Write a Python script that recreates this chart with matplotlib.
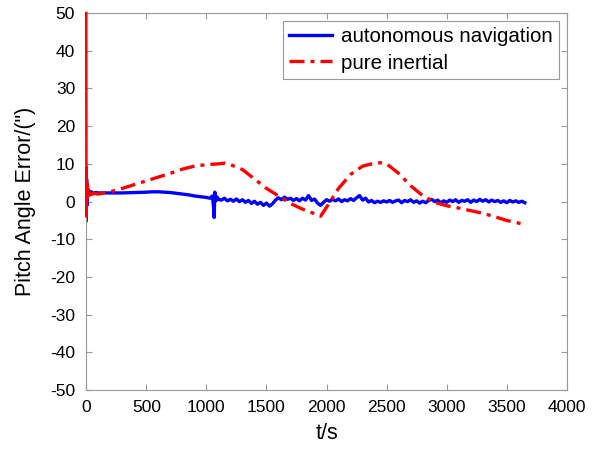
import matplotlib
matplotlib.use("Agg")
import matplotlib.pyplot as plt

plt.rcParams['font.family'] = ['Liberation Sans', 'DejaVu Sans']
plt.rcParams['axes.unicode_minus'] = False

# autonomous navigation pitch error (arcsec) vs time (s)
t_auto = [0, 3, 6, 10, 15, 20, 30, 40, 60, 80, 100, 150, 200, 300, 400, 500,
          550, 600, 650, 700, 750, 800, 850, 900, 950, 1000, 1030, 1050, 1060,
          1065, 1070, 1075, 1080, 1090, 1100, 1125,
          1150, 1175, 1200, 1225, 1250, 1275, 1300, 1325, 1350, 1375, 1400,
          1425, 1450, 1475, 1500, 1525, 1550, 1575, 1600, 1625, 1650, 1675,
          1700, 1725, 1750, 1775, 1800, 1825, 1850, 1875, 1900, 1925, 1950,
          1975, 2000, 2025, 2050, 2075, 2100, 2125, 2150, 2175, 2200, 2225,
          2250, 2275, 2300, 2325, 2350, 2375, 2400, 2425, 2450, 2475, 2500,
          2525, 2550, 2575, 2600, 2625, 2650, 2675, 2700, 2725, 2750, 2775,
          2800, 2825, 2850, 2875, 2900, 2925, 2950, 2975, 3000, 3025, 3050,
          3075, 3100, 3125, 3150, 3175, 3200, 3225, 3250, 3275, 3300, 3325,
          3350, 3375, 3400, 3425, 3450, 3475, 3500, 3525, 3550, 3575, 3600,
          3625, 3650]
e_auto = [-5.0, 6.0, -1.0, 4.0, 1.5, 3.0, 2.0, 2.6, 2.2, 2.4, 2.3, 2.3, 2.3, 2.3,
          2.4, 2.5, 2.6, 2.6, 2.5, 2.4, 2.2, 2.0, 1.8, 1.5, 1.3, 1.1, 0.9, 1.5,
          -1.5, -4.2, 2.5, 1.8, 0.2, 1.2, 0.6, 0.4,
          0.9, 0.2, 0.6, 0.1, 0.7, 0.0, 0.5, -0.2, 0.3, -0.5, 0.1,
          -0.7, -0.2, -1.0, -0.4, -1.2, -0.6, 0.4, 1.0, 0.5, 1.2, 0.6,
          0.9, 0.3, 0.8, 0.2, 0.9, 0.4, 1.6, 0.3, 0.7, -0.4, -1.0,
          -0.2, 0.5, 0.1, 0.6, 0.2, 0.7, 0.0, 0.5, 0.2, 0.8, 0.3,
          1.0, 1.6, 0.4, 0.9, -0.1, 0.3, -0.3, 0.1, -0.2, 0.2, -0.1,
          0.3, -0.2, 0.2, 0.4, -0.3, 0.3, 0.0, 0.5, -0.2, 0.2, -0.4,
          0.1, -0.3, 0.3, 0.6, 0.0, 0.4, -0.3, 0.2, -0.2, 0.4, 0.0,
          0.5, -0.2, 0.3, 0.1, 0.5, -0.2, 0.4, 0.0, 0.6, 0.1, 0.5,
          -0.1, 0.4, 0.0, 0.3, -0.2, 0.2, -0.3, 0.3, -0.1, 0.2, -0.2,
          0.1, -0.3]

# pure inertial pitch error
t_ins = [0, 2, 4, 6, 8, 12, 16, 20, 30, 40, 60, 100, 200, 300, 400, 500, 600,
         700, 800, 900, 1000, 1100, 1150, 1200, 1300, 1400, 1500, 1600, 1700,
         1800, 1900, 1950, 2000, 2100, 2200, 2300, 2400, 2450, 2500, 2600,
         2700, 2800, 2900, 3000, 3100, 3200, 3300, 3400, 3500, 3600, 3650]
e_ins = [50.0, -4.0, 9.0, 0.0, 5.0, 1.0, 3.0, 1.5, 2.5, 1.8, 2.2, 2.0, 2.6, 3.5,
         4.5, 5.5, 6.5, 7.5, 8.6, 9.4, 9.8, 10.0, 10.2, 9.8, 8.5, 6.0, 3.5,
         1.5, -0.5, -2.0, -3.2, -3.9, -1.5, 3.5, 7.2, 9.4, 10.2, 10.3, 10.0,
         7.5, 4.2, 1.6, -0.2, -1.1, -1.7, -2.4, -3.1, -4.0, -5.0, -5.7, -6.1]

# start-up transient is so steep the dash pattern never breaks it
n_start = 10

fig = plt.figure(figsize=(6.03, 4.49), dpi=100)
ax = fig.add_axes([0.143, 0.131, 0.797, 0.840])

ax.plot(t_auto, e_auto, color='#0000ff', linewidth=2.4, label='autonomous navigation')
ax.plot(t_ins[:n_start], e_ins[:n_start], color='#ff0000', linewidth=1.8,
        clip_on=False, zorder=3)
ax.plot(t_ins[n_start - 1:], e_ins[n_start - 1:], color='#ff0000', linewidth=2.4,
        linestyle='-.', dashes=(4.5, 1.8, 1.2, 1.8), label='pure inertial')

ax.set_xlim(0, 4000)
ax.set_ylim(-50, 50)
ax.set_xticks(range(0, 4001, 500))
ax.set_yticks(range(-50, 51, 10))
ax.tick_params(direction='in', top=True, right=True, length=4, width=0.8,
               color='#999999', labelsize=12.5)
ax.tick_params(axis='x', pad=7)
ax.tick_params(axis='y', pad=8)
for s in ax.spines.values():
    s.set_color('#999999')
    s.set_linewidth(0.8)

ax.set_xlabel('t/s', fontsize=15.5, labelpad=6)
ax.set_ylabel('Pitch Angle Error/(")', fontsize=15.5, labelpad=10)

leg = ax.legend(loc='upper right', fontsize=14.8, handlelength=2.1,
                fancybox=False, edgecolor='#999999', framealpha=1,
                borderpad=0.3, labelspacing=0.35, handletextpad=0.4,
                borderaxespad=0.4)
leg.get_frame().set_linewidth(0.8)
leg.set_zorder(4)

fig.savefig('out.png', dpi=100)
